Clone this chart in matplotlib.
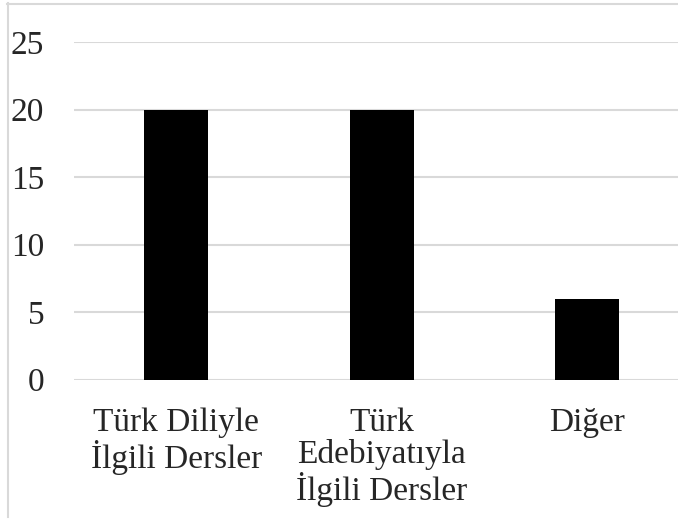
import matplotlib
matplotlib.use("Agg")
import matplotlib.pyplot as plt
from matplotlib.lines import Line2D

categories = ["Türk Diliyle\nİlgili Dersler", "Türk\nEdebiyatıyla\nİlgili Dersler", "Diğer"]
values = [20, 20, 6]
yticks = [0, 5, 10, 15, 20, 25]

plt.rcParams['font.family'] = ['Liberation Serif', 'DejaVu Serif']

W, H = 678, 519
fig = plt.figure(figsize=(W / 100, H / 100), dpi=100)
left = 73.5 / W
right = 690 / W
bottom = (H - 379.5) / H
top = (H - 42) / H
ax = fig.add_axes([left, bottom, right - left, top - bottom])

x = range(len(categories))
ax.bar(x, values, width=0.31, color='black', zorder=3)
ax.set_xlim(-0.5, len(categories) - 0.5)
ax.set_ylim(0, 25)
ax.set_yticks(yticks)
ax.set_yticklabels([str(t) for t in yticks])
ax.set_xticks(list(x))
ax.set_xticklabels(categories, linespacing=1.07)
for lbl in ax.get_xticklabels():
    lbl.set_multialignment('center')

ax.tick_params(axis='y', length=0, pad=21, labelsize=24, labelcolor='#262626')
ax.tick_params(axis='x', length=0, pad=20, labelsize=24, labelcolor='#262626')
ax.grid(axis='y', color='#d9d9d9', linewidth=1.5, zorder=0)
ax.set_axisbelow(True)
for s in ax.spines.values():
    s.set_visible(False)

# outer chart border (partially visible)
fig.add_artist(Line2D([7.5 / W, 7.5 / W], [1 - 3 / H, 1 - 517 / H], transform=fig.transFigure,
                      color='#d9d9d9', linewidth=1.5))
fig.add_artist(Line2D([7 / W, 1], [1 - 3.5 / H, 1 - 3.5 / H], transform=fig.transFigure,
                      color='#d9d9d9', linewidth=1.5))

fig.savefig('out.png', dpi=100)
